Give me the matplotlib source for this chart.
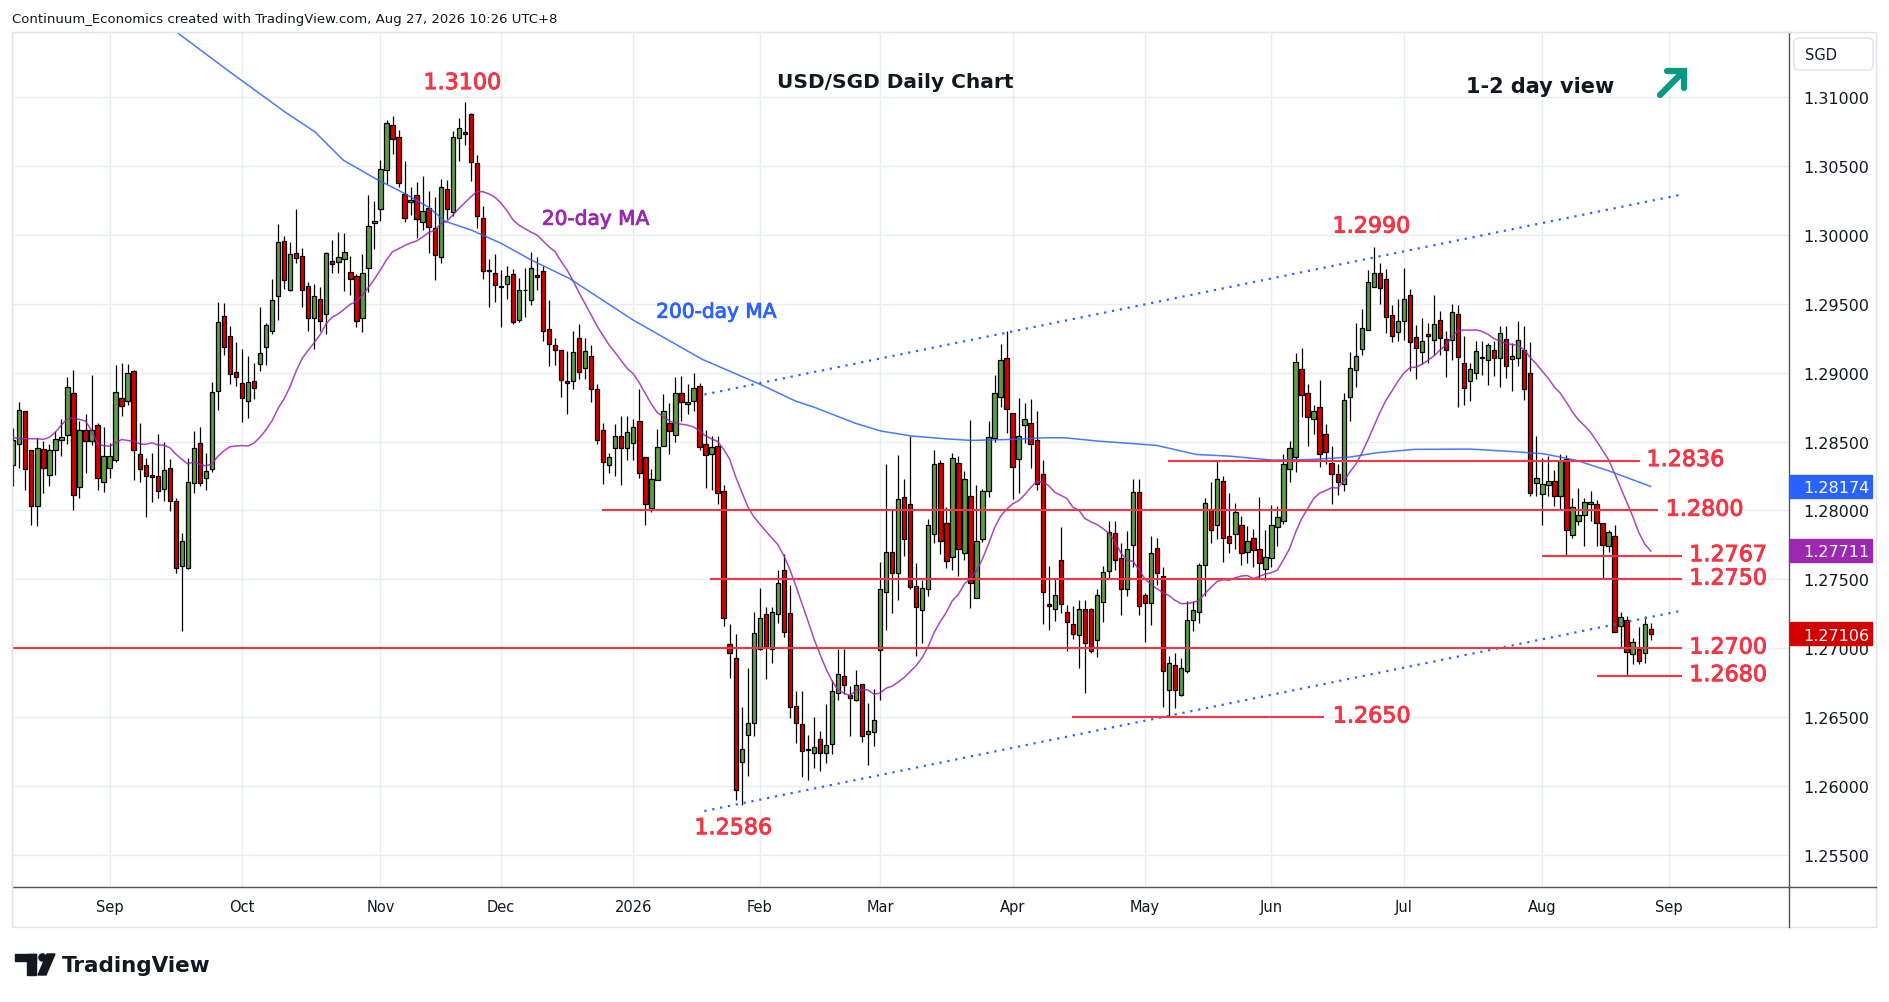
import numpy as np
import pandas as pd
import matplotlib
matplotlib.use("Agg")
import matplotlib.pyplot as plt
import matplotlib.transforms as mtransforms
import matplotlib.patheffects as pe
from matplotlib.patches import Rectangle, FancyBboxPatch, Circle, Polygon
from matplotlib.lines import Line2D

# daily USD/SGD bars, 8 Aug 2025 .. 27 Aug 2026
opens = [
    1.2833, 1.28485, 1.28718, 1.28435, 1.28034, 1.28449, 1.28258, 1.2844, 1.28512, 1.2855,
    1.28849, 1.28173, 1.2858, 1.28505, 1.28623, 1.28206, 1.28305, 1.28369, 1.28813, 1.28792,
    1.2901, 1.28413, 1.28333, 1.2826, 1.28253, 1.28154, 1.28306, 1.28067, 1.27597, 1.27585,
    1.28196, 1.28486, 1.28234, 1.28297, 1.28869, 1.2941, 1.29265, 1.29004, 1.28923, 1.28792,
    1.28938, 1.29064, 1.29185, 1.29301, 1.29555, 1.29954, 1.29598, 1.29865, 1.29848, 1.2963,
    1.29397, 1.29535, 1.29426, 1.29812, 1.29803, 1.29826, 1.29731, 1.29702, 1.29394, 1.29761,
    1.30087, 1.30188, 1.3047, 1.30797, 1.3071, 1.30296, 1.30236, 1.30287, 1.30089, 1.30195,
    1.30051, 1.29841, 1.30333, 1.30166, 1.30703, 1.30746, 1.30877, 1.30519, 1.30118, 1.29745,
    1.2972, 1.29629, 1.29641, 1.29713, 1.29381, 1.29596, 1.29527, 1.29709, 1.29738, 1.29317,
    1.29203, 1.29167, 1.28942, 1.2894, 1.2925, 1.29036, 1.2912, 1.28884, 1.28584, 1.2833,
    1.28456, 1.2854, 1.28456, 1.28492, 1.28649, 1.28388, 1.2802, 1.28221, 1.28468, 1.28637,
    1.28548, 1.28855, 1.28775, 1.28794, 1.28903, 1.2848, 1.28412, 1.28468, 1.28141, 1.27033,
    1.26932, 1.26177, 1.26375, 1.26455, 1.26997, 1.27251, 1.26997, 1.27251, 1.27566, 1.27258,
    1.26581, 1.26453, 1.26271, 1.26242, 1.26339, 1.26242, 1.26308, 1.26673, 1.26799, 1.26665,
    1.26624, 1.26742, 1.26379, 1.26394, 1.26986, 1.2741, 1.27702, 1.27548, 1.28099, 1.28048,
    1.27451, 1.27277, 1.27432, 1.27831, 1.28346, 1.27906, 1.27664, 1.28346, 1.27693, 1.28104,
    1.27366, 1.27794, 1.2814, 1.28522, 1.28825, 1.29108, 1.28709, 1.28375, 1.28617, 1.28636,
    1.2851, 1.28261, 1.27318, 1.27286, 1.27644, 1.27265, 1.27173, 1.271, 1.27287, 1.27282,
    1.27059, 1.27335, 1.2756, 1.27838, 1.27657, 1.27427, 1.27746, 1.28135, 1.2739, 1.2733,
    1.27729, 1.27523, 1.26701, 1.26878, 1.26665, 1.26839, 1.27204, 1.27265, 1.27601, 1.28,
    1.27898, 1.28213, 1.27814, 1.27826, 1.27894, 1.277, 1.27802, 1.27717, 1.27577, 1.27652,
    1.27881, 1.27923, 1.28298, 1.28387, 1.29028, 1.28854, 1.28665, 1.2875, 1.28556, 1.28346,
    1.28261, 1.28194, 1.28822, 1.29018, 1.29173, 1.29309, 1.29623, 1.29725, 1.29676, 1.29415,
    1.29297, 1.29374, 1.2956, 1.29258, 1.2915, 1.29282, 1.29239, 1.29384, 1.29243, 1.29239,
    1.29425, 1.29069, 1.28936, 1.28997, 1.29113, 1.29093, 1.29161, 1.29105, 1.29243, 1.29098,
    1.29105, 1.29161, 1.28997, 1.28198, 1.28119, 1.28186, 1.2821, 1.28102, 1.28373, 1.27823,
    1.2792, 1.27964, 1.28046, 1.28046, 1.27908, 1.27739, 1.27816, 1.27165, 1.27207, 1.26957,
    1.26992, 1.26965, 1.27139,
]
highs = [
    1.2860, 1.28783, 1.2872, 1.2844, 1.28522, 1.28505, 1.28481, 1.28573, 1.28661, 1.28967,
    1.29015, 1.2865, 1.28698, 1.28982, 1.28633, 1.28602, 1.28488, 1.29054, 1.29073, 1.29063,
    1.29017, 1.28633, 1.28377, 1.2842, 1.28553, 1.28493, 1.28374, 1.28093, 1.27833, 1.2838,
    1.28573, 1.28602, 1.2842, 1.28935, 1.29511, 1.29506, 1.29337, 1.29221, 1.29173, 1.29119,
    1.29071, 1.29475, 1.29361, 1.29681, 1.3008, 1.29988, 1.29947, 1.30184, 1.29902, 1.29654,
    1.29639, 1.29617, 1.29878, 1.29958, 1.30017, 1.30012, 1.29849, 1.29714, 1.29863, 1.30291,
    1.30244, 1.30545, 1.30833, 1.30862, 1.30756, 1.30531, 1.30347, 1.30383, 1.30427, 1.30318,
    1.30274, 1.30407, 1.30395, 1.30753, 1.30848, 1.30964, 1.30884, 1.30577, 1.30209, 1.29827,
    1.29862, 1.29743, 1.29771, 1.29749, 1.29688, 1.29761, 1.29878, 1.29836, 1.29774, 1.29525,
    1.29252, 1.29167, 1.29155, 1.2930, 1.2935, 1.2925, 1.2920, 1.28915, 1.28637, 1.2842,
    1.2863, 1.28686, 1.28686, 1.28661, 1.28884, 1.28388, 1.28299, 1.28589, 1.28848, 1.28782,
    1.28971, 1.28976, 1.28915, 1.28995, 1.28923, 1.28584, 1.2854, 1.2854, 1.28185, 1.27174,
    1.27101, 1.26574, 1.26859, 1.27266, 1.2744, 1.27302, 1.27302, 1.27566, 1.27682, 1.27457,
    1.2669, 1.2669, 1.26368, 1.26504, 1.26399, 1.26593, 1.2677, 1.26992, 1.26992, 1.26725,
    1.26846, 1.26742, 1.26604, 1.26706, 1.27625, 1.28334, 1.28, 1.28399, 1.28225, 1.28539,
    1.2762, 1.27494, 1.27935, 1.28435, 1.28365, 1.28027, 1.28418, 1.28394, 1.28285, 1.28653,
    1.28181, 1.28157, 1.28648, 1.2898, 1.29205, 1.29301, 1.28709, 1.28818, 1.28776, 1.28806,
    1.28721, 1.28365, 1.27596, 1.27511, 1.27879, 1.27313, 1.27306, 1.27354, 1.27354, 1.27294,
    1.27432, 1.27596, 1.27927, 1.27923, 1.27761, 1.2785, 1.28225, 1.28225, 1.27402, 1.27814,
    1.27797, 1.27589, 1.26943, 1.26967, 1.26931, 1.27342, 1.27342, 1.2762, 1.28092, 1.28208,
    1.28358, 1.28249, 1.28128, 1.28056, 1.27959, 1.27886, 1.27869, 1.28097, 1.27855, 1.28039,
    1.28031, 1.28411, 1.28503, 1.29144, 1.29176, 1.28914, 1.28764, 1.28943, 1.28624, 1.28467,
    1.28334, 1.28854, 1.29151, 1.29362, 1.29459, 1.29742, 1.2991, 1.29797, 1.29749, 1.2949,
    1.29531, 1.29761, 1.29604, 1.29347, 1.29396, 1.2936, 1.29565, 1.29444, 1.29299, 1.295,
    1.29493, 1.29263, 1.29069, 1.29226, 1.29226, 1.29214, 1.29226, 1.29335, 1.29335, 1.29214,
    1.29372, 1.29335, 1.29219, 1.28542, 1.2838, 1.28392, 1.28295, 1.28411, 1.28404, 1.2809,
    1.28162, 1.2809, 1.28138, 1.28077, 1.27908, 1.2786, 1.27896, 1.27267, 1.27231, 1.27074,
    1.27153, 1.27231, 1.27182,
]
lows = [
    1.2818, 1.28311, 1.28149, 1.27896, 1.27889, 1.2813, 1.28179, 1.28256, 1.28396, 1.28481,
    1.28005, 1.28093, 1.2827, 1.28473, 1.28149, 1.28134, 1.28234, 1.28352, 1.28686, 1.28765,
    1.28222, 1.28209, 1.27956, 1.2806, 1.28093, 1.2807, 1.27998, 1.27548, 1.27125, 1.27578,
    1.28124, 1.28178, 1.28145, 1.2828, 1.28725, 1.29129, 1.28914, 1.28902, 1.2864, 1.28672,
    1.28805, 1.29008, 1.29052, 1.29277, 1.29378, 1.29603, 1.2959, 1.29793, 1.29474, 1.29303,
    1.29169, 1.29301, 1.29279, 1.29721, 1.29719, 1.29592, 1.29561, 1.29331, 1.29295, 1.29586,
    1.29896, 1.30099, 1.30371, 1.30582, 1.30347, 1.30089, 1.30141, 1.29973, 1.30034, 1.29867,
    1.2967, 1.29793, 1.30117, 1.30137, 1.30533, 1.30649, 1.30388, 1.30045, 1.29675, 1.29476,
    1.29509, 1.29333, 1.29537, 1.2935, 1.29364, 1.29405, 1.2949, 1.29599, 1.29228, 1.29048,
    1.29058, 1.28823, 1.28703, 1.2888, 1.28956, 1.28952, 1.28787, 1.2848, 1.2819, 1.28274,
    1.2825, 1.28182, 1.28364, 1.28366, 1.28238, 1.27895, 1.27989, 1.28221, 1.28468, 1.28407,
    1.28497, 1.28649, 1.28698, 1.28722, 1.28439, 1.28161, 1.28149, 1.2805, 1.27162, 1.26787,
    1.25899, 1.25867, 1.26073, 1.26363, 1.26987, 1.26779, 1.26895, 1.27186, 1.27082, 1.26496,
    1.26315, 1.26068, 1.26044, 1.26134, 1.2611, 1.2617, 1.26237, 1.26625, 1.26666, 1.26362,
    1.26616, 1.26319, 1.26157, 1.26295, 1.26624, 1.27136, 1.27253, 1.27349, 1.27669, 1.27432,
    1.26943, 1.2704, 1.27383, 1.27761, 1.27681, 1.27584, 1.27567, 1.27523, 1.27644, 1.27294,
    1.27366, 1.2777, 1.28099, 1.28496, 1.28752, 1.28564, 1.2808, 1.28128, 1.28486, 1.2831,
    1.28148, 1.27173, 1.27132, 1.27197, 1.27257, 1.26979, 1.27069, 1.26858, 1.26677, 1.26967,
    1.26938, 1.2719, 1.27504, 1.27567, 1.27245, 1.27378, 1.27591, 1.27245, 1.27047, 1.27168,
    1.27458, 1.26573, 1.2650, 1.26568, 1.26653, 1.26822, 1.27124, 1.27185, 1.27378, 1.27765,
    1.2779, 1.27627, 1.27693, 1.27717, 1.27603, 1.2762, 1.27589, 1.27511, 1.27494, 1.27589,
    1.27741, 1.27903, 1.28208, 1.28281, 1.28677, 1.28467, 1.28552, 1.28314, 1.28334, 1.28048,
    1.28111, 1.2814, 1.28648, 1.28895, 1.29127, 1.29309, 1.29623, 1.29495, 1.29284, 1.29224,
    1.29229, 1.29234, 1.29011, 1.28953, 1.29064, 1.29069, 1.2913, 1.2913, 1.28968, 1.29093,
    1.2875, 1.28767, 1.28791, 1.28953, 1.28985, 1.2891, 1.28977, 1.28895, 1.2896, 1.28864,
    1.2905, 1.28798, 1.28106, 1.28102, 1.27896, 1.28102, 1.28034, 1.28005, 1.27671, 1.27799,
    1.27896, 1.27739, 1.2792, 1.27744, 1.27502, 1.27702, 1.27115, 1.27001, 1.26803, 1.26887,
    1.26887, 1.26892, 1.27061,
]
closes = [
    1.2851, 1.28725, 1.28304, 1.28029, 1.28456, 1.28311, 1.28442, 1.28515, 1.28531, 1.28892,
    1.28115, 1.2858, 1.28505, 1.28587, 1.28238, 1.28398, 1.28398, 1.28856, 1.28755, 1.28995,
    1.28442, 1.28297, 1.28253, 1.28245, 1.2814, 1.28292, 1.28067, 1.27585, 1.27781, 1.28208,
    1.2845, 1.28196, 1.28285, 1.28856, 1.29366, 1.29185, 1.28987, 1.28967, 1.28815, 1.28931,
    1.28887, 1.29141, 1.29347, 1.29528, 1.29947, 1.29671, 1.2986, 1.29834, 1.29601, 1.29393,
    1.29557, 1.29375, 1.29865, 1.2979, 1.2984, 1.29878, 1.2968, 1.29375, 1.29725, 1.30065,
    1.30102, 1.30473, 1.30807, 1.30695, 1.30376, 1.30122, 1.30253, 1.30115, 1.30174, 1.30058,
    1.29853, 1.30347, 1.30188, 1.3071, 1.30775, 1.30732, 1.30528, 1.30133, 1.29738, 1.29735,
    1.29634, 1.29622, 1.29701, 1.29369, 1.29601, 1.29598, 1.29761, 1.29694, 1.29303, 1.29206,
    1.29162, 1.28945, 1.28925, 1.2915, 1.29007, 1.2916, 1.28884, 1.28511, 1.28352, 1.2839,
    1.2854, 1.28456, 1.28572, 1.28608, 1.2827, 1.28049, 1.28231, 1.28463, 1.28722, 1.28577,
    1.2885, 1.2879, 1.2879, 1.28891, 1.28463, 1.28403, 1.28463, 1.28124, 1.27222, 1.26968,
    1.25971, 1.26267, 1.2646, 1.27113, 1.27222, 1.27012, 1.27263, 1.27476, 1.2712, 1.26576,
    1.26455, 1.26254, 1.26266, 1.26283, 1.26242, 1.26296, 1.2669, 1.26811, 1.26731, 1.26641,
    1.26737, 1.26362, 1.26403, 1.26483, 1.27427, 1.27702, 1.27548, 1.2808, 1.27794, 1.27446,
    1.27301, 1.27439, 1.27891, 1.28334, 1.27777, 1.27632, 1.28382, 1.27722, 1.2823, 1.27475,
    1.27782, 1.2814, 1.28535, 1.28849, 1.29089, 1.28733, 1.28317, 1.28539, 1.28665, 1.28479,
    1.28189, 1.2741, 1.2731, 1.2739, 1.27325, 1.27192, 1.27107, 1.27282, 1.2704, 1.26979,
    1.2739, 1.27555, 1.27845, 1.2764, 1.27432, 1.27717, 1.28135, 1.2731, 1.2733, 1.27693,
    1.27548, 1.26839, 1.2689, 1.26701, 1.26858, 1.27204, 1.27277, 1.27603, 1.28056, 1.27855,
    1.28225, 1.27802, 1.27765, 1.27988, 1.27693, 1.27777, 1.2771, 1.2762, 1.27661, 1.27898,
    1.27952, 1.28334, 1.28455, 1.29079, 1.28837, 1.28677, 1.28721, 1.28406, 1.28426, 1.28266,
    1.28208, 1.28798, 1.29035, 1.2912, 1.29326, 1.29657, 1.29725, 1.29616, 1.29405, 1.29265,
    1.29374, 1.29536, 1.29224, 1.29178, 1.29231, 1.29268, 1.29355, 1.29251, 1.29166, 1.29437,
    1.29113, 1.28888, 1.29026, 1.29154, 1.29105, 1.29202, 1.29105, 1.29287, 1.2905, 1.29122,
    1.29239, 1.2888, 1.28126, 1.28235, 1.28191, 1.2821, 1.28102, 1.28356, 1.2786, 1.28022,
    1.27964, 1.2806, 1.2806, 1.27908, 1.27751, 1.27843, 1.27115, 1.27224, 1.26972, 1.27049,
    1.26909, 1.27175, 1.27106,
]

# 20-day MA for the first 19 bars (no earlier closes on the chart)
ma20_head = [1.2853, 1.2852, 1.2852, 1.2852, 1.2852, 1.28516, 1.2853, 1.28568, 1.2862, 1.28665,
             1.2867, 1.2866, 1.28648, 1.2858, 1.28483, 1.2847, 1.28466, 1.2849, 1.28515]

# 200-day MA read at bar positions
ma200_pos = [27.4, 36, 45.1, 50.1, 54.8, 60.1, 65, 68.9, 71.7, 76.1, 81.1, 86.1, 92.4, 103,
             114.4, 124.4, 129.9, 133.2, 139.9, 144.1, 149.2, 154.7, 159.1, 165.8, 171.3, 174.6,
             180.2, 186.2, 189.9, 196.5, 202, 209.2, 215.9, 222, 226.4, 232.8, 242, 248.7,
             254.2, 259.7, 265.3, 272]
ma200_val = [1.3146, 1.3118, 1.30891, 1.30746, 1.30541, 1.30408, 1.30299, 1.30202, 1.30098,
             1.30033, 1.29936, 1.29815, 1.29682, 1.2938, 1.29097, 1.28908, 1.28794, 1.28746,
             1.28632, 1.28576, 1.2854, 1.2852, 1.28508, 1.28515, 1.28527, 1.28527, 1.28503,
             1.28484, 1.28472, 1.28406, 1.28394, 1.28365, 1.2837, 1.28387, 1.28418, 1.28443,
             1.28445, 1.28428, 1.28411, 1.28363, 1.28283, 1.28174]

# channel lines (bar position, price)
chan_pos = [114.8, 276.8]
chan_upper = [1.28841, 1.30288]
chan_lower = [1.25820, 1.27270]

# key levels
levels = [1.2836, 1.2800, 1.2767, 1.2750, 1.2700, 1.2680, 1.2650]
level_text = ["1.2836", "1.2800", "1.2767", "1.2750", "1.2700", "1.2680", "1.2650"]
peaks = [1.3100, 1.2990, 1.2586]
peak_text = ["1.3100", "1.2990", "1.2586"]

price_ticks = [1.255, 1.260, 1.265, 1.270, 1.275, 1.280, 1.285, 1.290, 1.295, 1.300, 1.305, 1.310]
tag_vals = [1.28174, 1.27711, 1.27106]

GREEN = "#5e9c47"
RED = "#d20000"
LRED = "#f23645"
BLUE = "#2962ff"
PURPLE = "#9c27b0"
INK = "#131722"
GRID = "#e8ecf3"

W, H = 1889, 1003
fig = plt.figure(figsize=(W / 100, H / 100), dpi=100)
pix = mtransforms.Affine2D().scale(1 / W, -1 / H).translate(0, 1) + fig.transFigure

def fx(px):
    return px / W

def fy(py):
    return 1 - py / H

def thick(col, w=0.7):
    return [pe.withStroke(linewidth=w, foreground=col)]

ax = fig.add_axes([fx(12), fy(888), fx(1789) - fx(12), fy(33) - fy(888)])
ax.set_xlim(-0.21, 294.97)
ax.set_ylim(1.25269, 1.31470)

# dates -> month tick positions
dates = pd.bdate_range("2025-08-08", periods=300, freq="C", holidays=["2025-12-25", "2026-01-01"])
month_pos, month_lab = [], []
for i in range(1, len(dates)):
    if dates[i].month != dates[i - 1].month and i < 294:
        month_pos.append(i)
        month_lab.append(str(dates[i].year) if dates[i].month == 1 else dates[i].strftime("%b"))

o = np.array(opens)
h = np.array(highs)
l = np.array(lows)
c = np.array(closes)
x = np.arange(len(c))
cols = np.where(c >= o, GREEN, RED)

ax.vlines(x, l, h, color="black", lw=0.9, zorder=3)
body = np.maximum(np.abs(c - o), 0.00003)
ax.bar(x, body, bottom=np.minimum(o, c), width=0.72, color=cols, edgecolor="black",
       linewidth=0.9, zorder=4)

ma20 = pd.Series(c).rolling(20).mean().to_numpy()
ma20[:19] = ma20_head
ax.plot(x, ma20, color=PURPLE, lw=1.1, zorder=5, alpha=0.85)
ax.plot(ma200_pos, ma200_val, color=BLUE, lw=1.1, zorder=5, alpha=0.85)

ax.plot(chan_pos, chan_upper, color=BLUE, lw=1.6, ls=(0, (1, 2.6)), zorder=5)
ax.plot(chan_pos, chan_lower, color=BLUE, lw=1.6, ls=(0, (1, 2.6)), zorder=5)

# level lines and labels
lvl_x0 = [191.8, 97.8, 254, 115.8, -0.2, 263, 175.8]
lvl_x1 = [270.2, 273.2, 277.2, 277.2, 277.2, 277.2, 217.8]
lvl_tx = [271.3, 274.5, 278.4, 278.4, 278.4, 278.4, 219.2]
for v, t, a, b, tx in zip(levels, level_text, lvl_x0, lvl_x1, lvl_tx):
    ax.plot([a, b], [v, v], color=LRED, lw=1.5, zorder=6, solid_capstyle="butt")
    ax.text(tx, v + 0.0002, t, color=LRED, fontsize=16, ha="left", va="center_baseline",
            zorder=7, path_effects=thick(LRED))

peak_x = [74.6, 225.6, 119.6]
peak_y = [1.31114, 1.30073, 1.25710]
for t, px_, py_ in zip(peak_text, peak_x, peak_y):
    ax.text(px_, py_, t, color=LRED, fontsize=16, ha="center", va="center_baseline", zorder=7,
            path_effects=thick(LRED))

ax.text(87.8, 1.30126, "20-day MA", color=PURPLE, fontsize=14.5, va="center_baseline", zorder=7,
        path_effects=thick(PURPLE, 0.6))
ax.text(106.8, 1.29452, "200-day MA", color=BLUE, fontsize=14.5, va="center_baseline", zorder=7,
        path_effects=thick(BLUE, 0.6))

# axes styling
ax.set_yticks(price_ticks)
ax.set_yticklabels([f"{v:.5f}" for v in price_ticks])
ax.yaxis.tick_right()
ax.tick_params(axis="y", length=0, pad=10, labelsize=11.5, labelcolor=INK)
ax.set_xticks(month_pos)
ax.set_xticklabels(month_lab)
ax.tick_params(axis="x", length=0, pad=9, labelsize=10.5, labelcolor=INK)
ax.grid(True, color=GRID, lw=1)
ax.set_axisbelow(True)
for s in ["top", "left"]:
    ax.spines[s].set_color("#e0e3eb")
for s in ["right", "bottom"]:
    ax.spines[s].set_color("#50535e")
    ax.spines[s].set_linewidth(1)

# price tags on the right scale
tag_cols = [BLUE, PURPLE, RED]
trans = mtransforms.blended_transform_factory(ax.transAxes, ax.transData)
box_w = (1871 - 1789) / 1777
box_h = 23 / 855 * (1.31470 - 1.25269)
for v, col in zip(tag_vals, tag_cols):
    ax.add_patch(Rectangle((1.0005, v - box_h / 2), box_w, box_h, transform=trans, color=col,
                           clip_on=False, zorder=8))
    ax.text(1.0 + 14 / 1777, v, f"{v:.5f}", transform=trans, color="white", fontsize=11.5,
            ha="left", va="center_baseline", clip_on=False, zorder=9)

# frame pieces outside the axes
fig.add_artist(Rectangle((12, 33), 1864, 895, transform=pix, fill=False, ec="#e0e3eb", lw=1))
fig.add_artist(Line2D([1789, 1876], [888, 888], transform=pix, color="#50535e", lw=1))
fig.add_artist(Line2D([1789, 1789], [888, 928], transform=pix, color="#50535e", lw=1))
fig.add_artist(FancyBboxPatch((1794, 39), 79, 32, boxstyle="round,pad=0,rounding_size=5",
                              transform=pix, fc="white", ec="#e0e3eb", lw=1))
fig.text(fx(1805), fy(55), "SGD", fontsize=10.5, color=INK, va="center", ha="left")

# titles
fig.text(fx(12), fy(19), "Continuum_Economics created with TradingView.com, Aug 27, 2026 10:26 UTC+8",
         fontsize=9.5, color=INK, va="center", ha="left")
fig.text(fx(895), fy(83), "USD/SGD Daily Chart", fontsize=14.5, fontweight="bold", color=INK,
         ha="center", va="center")
fig.text(fx(1540), fy(87), "1-2 day view", fontsize=15, fontweight="bold", color=INK,
         ha="center", va="center")

# green arrow
arr = "#089981"
fig.add_artist(Line2D([1660, 1682], [96, 74], transform=pix, color=arr, lw=4.5, solid_capstyle="round"))
fig.add_artist(Line2D([1667, 1684, 1684], [72, 72, 89], transform=pix, color=arr, lw=4.5,
                      solid_capstyle="round", solid_joinstyle="miter"))

# TradingView logo
fig.add_artist(Rectangle((15, 955), 21, 7, transform=pix, color=INK))
fig.add_artist(Rectangle((27, 955), 9, 21, transform=pix, color=INK))
fig.add_artist(Circle((42.5, 958.5), 3.6, transform=pix, color=INK))
fig.add_artist(Polygon([(47, 955), (55, 955), (46, 976), (38, 976)], transform=pix, color=INK))
fig.text(fx(62), fy(966), "TradingView", fontsize=15.5, fontweight="bold", color=INK,
         ha="left", va="center")

fig.savefig("out.png", dpi=100)
